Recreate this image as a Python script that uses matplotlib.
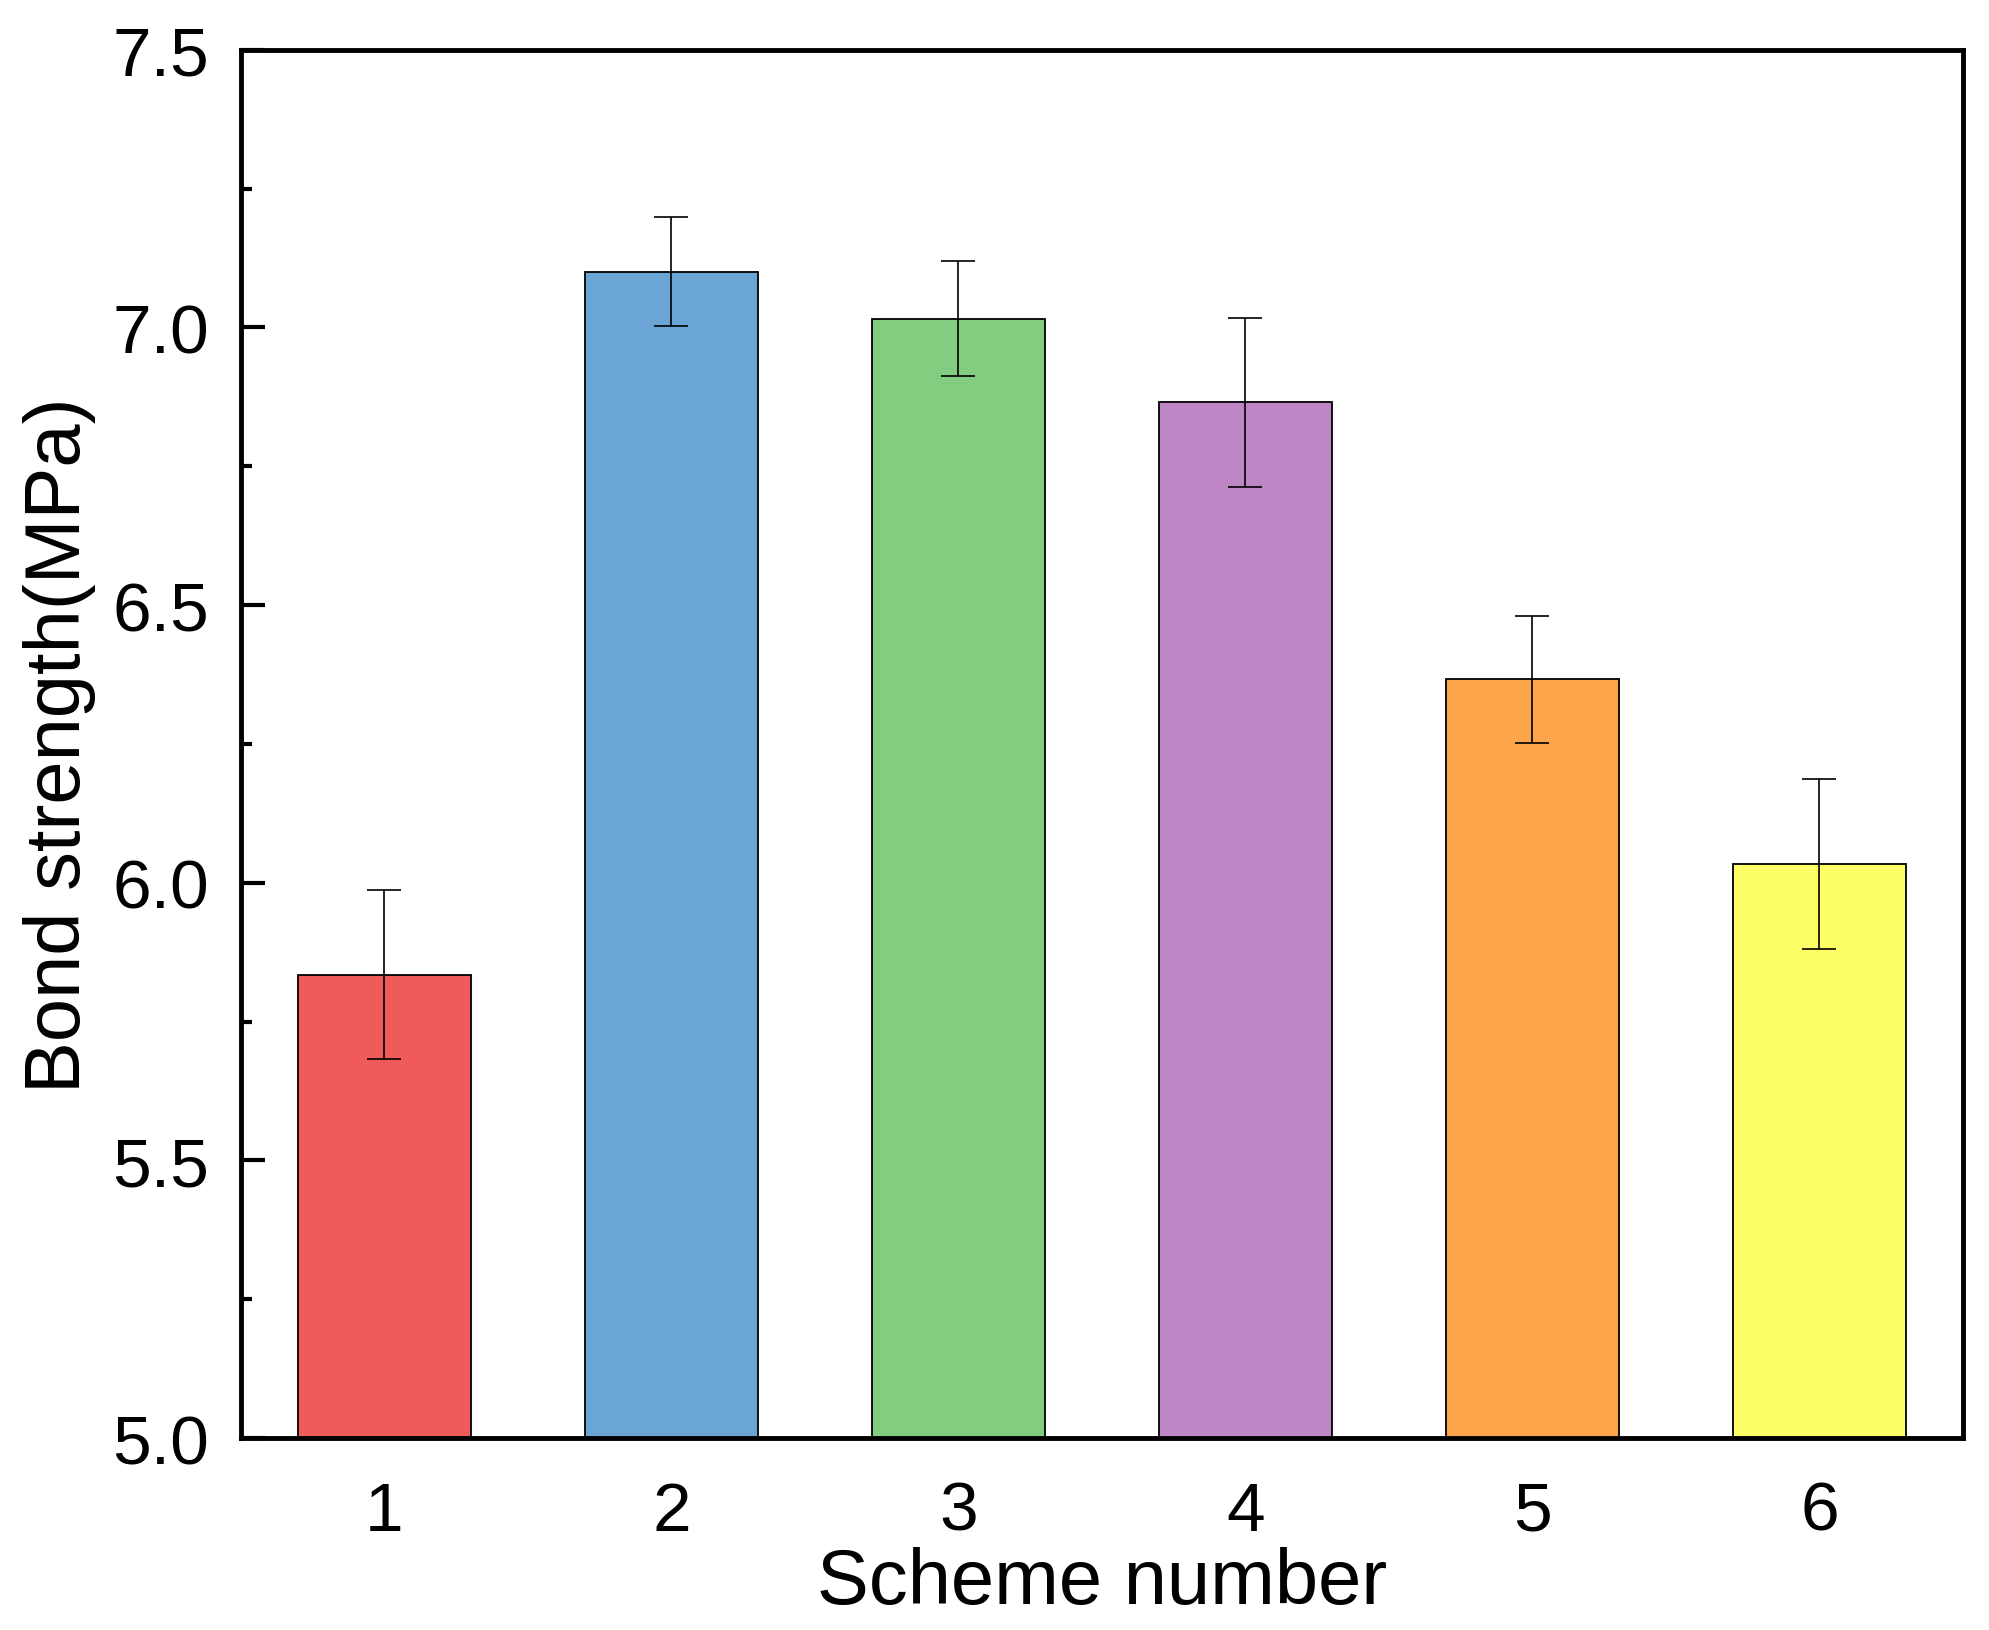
import matplotlib
matplotlib.use('Agg')
import matplotlib.pyplot as plt
from matplotlib.ticker import MultipleLocator, FormatStrFormatter

plt.rcParams['font.family'] = ['Liberation Sans', 'DejaVu Sans']

schemes = [1, 2, 3, 4, 5, 6]
strength = [5.834, 7.100, 7.016, 6.865, 6.366, 6.033]
errors = [0.152, 0.098, 0.104, 0.152, 0.115, 0.153]
colors = ['#EF5B5B', '#6BA5D5', '#83CD81', '#BE86C4', '#FCA54A', '#FEFE66']

fig = plt.figure(figsize=(19.9, 16.31), dpi=100)
ax = fig.add_axes([0.1211, 0.1177, 0.8653, 0.8512])

ax.bar(schemes, strength, width=0.6, color=colors, edgecolor='black', linewidth=1.3,
       yerr=errors, capsize=12, error_kw=dict(elinewidth=1.2, capthick=1.2, ecolor='black'))

ax.set_xlim(0.5, 6.5)
ax.set_ylim(5.0, 7.5)
ax.set_xticks(schemes)
ax.yaxis.set_major_locator(MultipleLocator(0.5))
ax.yaxis.set_minor_locator(MultipleLocator(0.25))
ax.yaxis.set_major_formatter(FormatStrFormatter('%.1f'))

ax.tick_params(axis='y', which='major', direction='in', length=17, width=3, labelsize=50, pad=23)
ax.tick_params(axis='y', which='minor', direction='in', length=8, width=3)
ax.tick_params(axis='x', which='major', length=0, labelsize=50, pad=30)

for sp in ax.spines.values():
    sp.set_linewidth(3.5)

ax.set_xlabel('Scheme number', fontsize=56, labelpad=2)
ax.set_ylabel('Bond strength(MPa)', fontsize=56, labelpad=12)

fig.savefig('out.png', dpi=100)
